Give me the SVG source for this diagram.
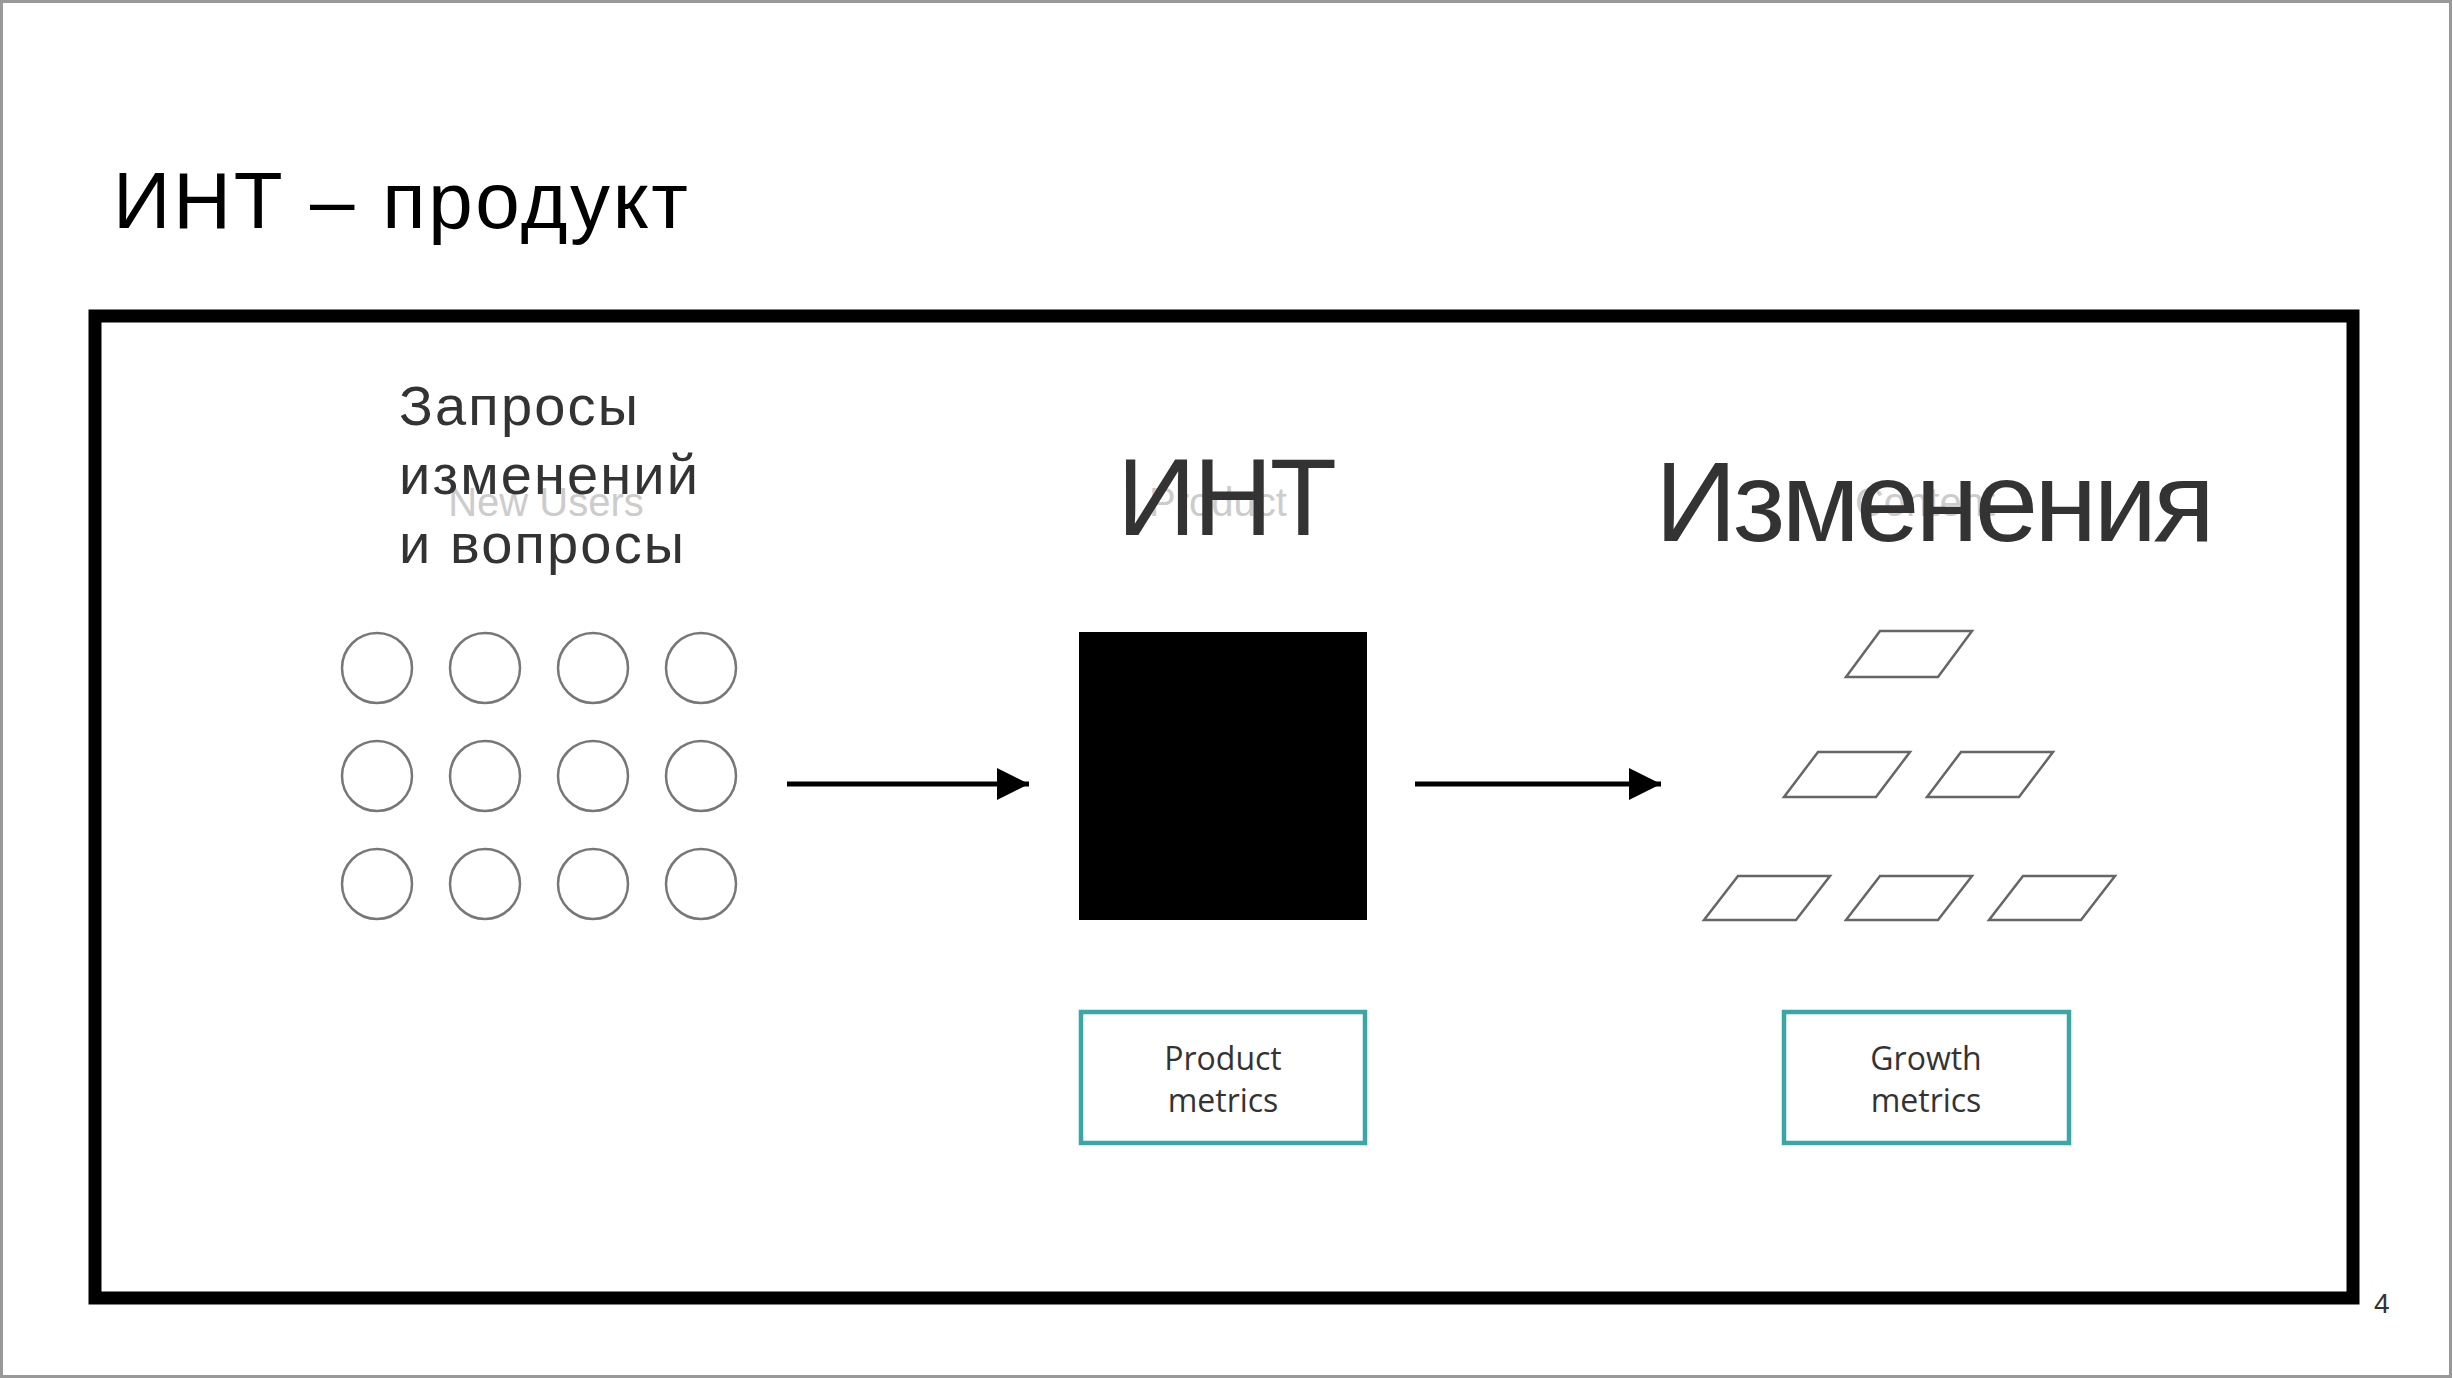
<svg xmlns="http://www.w3.org/2000/svg" width="2452" height="1378" viewBox="0 0 2452 1378">
<style>
.c{fill:none;stroke:#777;stroke-width:2.5}
.p{fill:none;stroke:#666;stroke-width:2.5}
.lbl{font-family:"Liberation Sans",Arial,sans-serif;fill:#333}
.ghost{font-family:"Liberation Sans",Arial,sans-serif;fill:#ccc;text-anchor:middle}
.m{font-family:"Open Sans","Liberation Sans",sans-serif;font-size:32px;fill:#333;text-anchor:middle}
.box{fill:#fff;stroke:#3aa6a6;stroke-width:4.5}
</style>
<defs>
<marker id="a" viewBox="0 0 10 10" refX="10" refY="5" markerWidth="6.5" markerHeight="6.5" orient="auto"><path d="M0,0 L10,5 L0,10 Z" fill="#000"/></marker>
</defs>
<rect x="0" y="0" width="2452" height="1378" fill="#fff"/>
<rect x="1.5" y="1.5" width="2449" height="1375" fill="none" stroke="#999" stroke-width="3"/>
<text x="113" y="228" class="lbl" font-size="80" style="fill:#000" textLength="575">ИНТ – продукт</text>
<rect id="frame" x="95" y="316" width="2258" height="982" fill="none" stroke="#000" stroke-width="13"/>
<text x="2374" y="1313" class="lbl" font-size="28">4</text>

<g id="requests">
<text x="546" y="516" class="ghost" font-size="40">New Users</text>
<text class="lbl" font-size="56" font-weight="500"><tspan x="399" y="425" textLength="239">Запросы</tspan><tspan x="399" y="494" textLength="299">изменений</tspan><tspan x="399" y="563" textLength="285">и вопросы</tspan></text>
<circle class="c" cx="377" cy="668" r="35"/><circle class="c" cx="485" cy="668" r="35"/><circle class="c" cx="593" cy="668" r="35"/><circle class="c" cx="701" cy="668" r="35"/>
<circle class="c" cx="377" cy="776" r="35"/><circle class="c" cx="485" cy="776" r="35"/><circle class="c" cx="593" cy="776" r="35"/><circle class="c" cx="701" cy="776" r="35"/>
<circle class="c" cx="377" cy="884" r="35"/><circle class="c" cx="485" cy="884" r="35"/><circle class="c" cx="593" cy="884" r="35"/><circle class="c" cx="701" cy="884" r="35"/>
</g>

<g id="int">
<text x="1218" y="516" class="ghost" font-size="40">Product</text>
<text x="1117" y="535" class="lbl" font-size="110" textLength="220">ИНТ</text>
<rect x="1079" y="632" width="288" height="288" fill="#000"/>
</g>

<g id="changes">
<text x="1925" y="516" class="ghost" font-size="40">Content</text>
<text x="1655" y="541" class="lbl" font-size="114" textLength="560">Изменения</text>
<path class="p" d="M1880,631 L1972,631 L1938,677 L1846,677 Z"/>
<path class="p" d="M1818,752 L1910,752 L1876,797 L1784,797 Z"/>
<path class="p" d="M1961,752 L2053,752 L2019,797 L1927,797 Z"/>
<path class="p" d="M1738,876 L1830,876 L1796,920 L1704,920 Z"/>
<path class="p" d="M1880,876 L1972,876 L1938,920 L1846,920 Z"/>
<path class="p" d="M2023,876 L2115,876 L2081,920 L1989,920 Z"/>
</g>

<g id="product-metrics">
<rect class="box" x="1081" y="1012" width="284" height="131"/>
<text class="m"><tspan x="1223" y="1070">Product</tspan><tspan x="1223" y="1112">metrics</tspan></text>
</g>
<g id="growth-metrics">
<rect class="box" x="1784" y="1012" width="285" height="131"/>
<text class="m"><tspan x="1926" y="1070">Growth</tspan><tspan x="1926" y="1112">metrics</tspan></text>
</g>

<g id="connectors" stroke="#000" stroke-width="5">
<line x1="787" y1="784" x2="1029" y2="784" marker-end="url(#a)"/>
<line x1="1415" y1="784" x2="1661" y2="784" marker-end="url(#a)"/>
</g>
</svg>
